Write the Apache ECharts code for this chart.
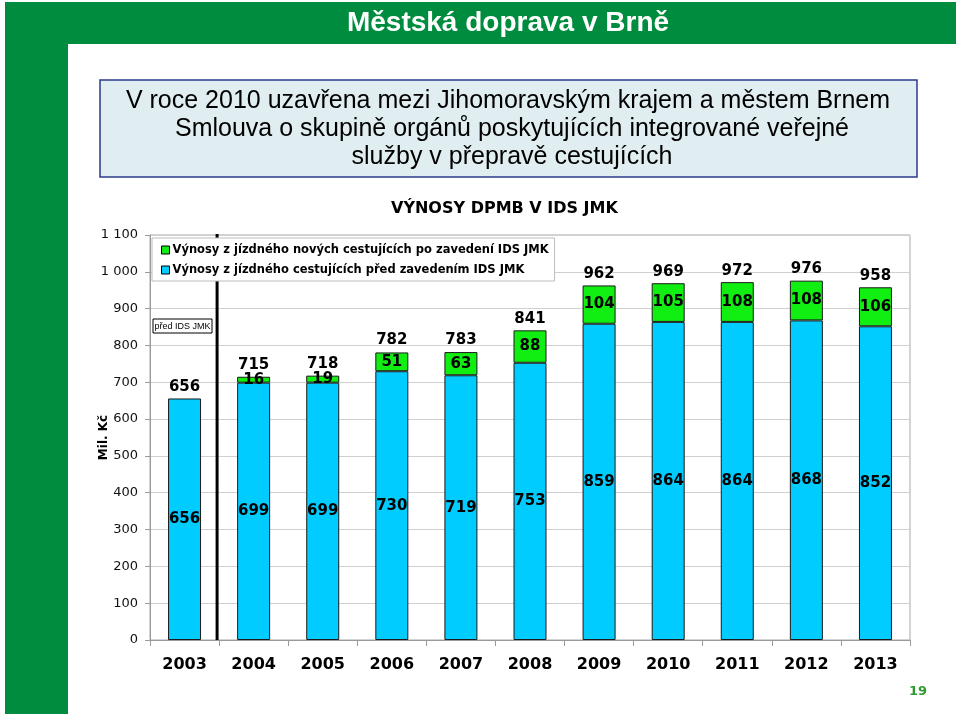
<!DOCTYPE html>
<html>
<head>
<meta charset="utf-8">
<script src="https://cdn.jsdelivr.net/npm/echarts@6/dist/echarts.min.js"></script>
<style>
html,body{margin:0;padding:0;background:#fff;}
#c{width:960px;height:716px;}
</style>
</head>
<body>
<div id="c"></div>
<script>
// ---- data ----
const years = ['2003','2004','2005','2006','2007','2008','2009','2010','2011','2012','2013'];
const beforeIDS = [656, 699, 699, 730, 719, 753, 859, 864, 864, 868, 852];
const newPassengers = [null, 16, 19, 51, 63, 88, 104, 105, 108, 108, 106];
const totals = [656, 715, 718, 782, 783, 841, 962, 969, 972, 976, 958];
const seriesNames = ['Výnosy z jízdného nových cestujících po zavedení IDS JMK', 'Výnosy z jízdného cestujících před zavedením IDS JMK'];
const slideTitle = 'Městská doprava v Brně';
const boxLines = ['V roce 2010 uzavřena mezi Jihomoravským krajem a městem Brnem', 'Smlouva o skupině orgánů poskytujících integrované veřejné', 'služby v přepravě cestujících'];
const chartTitle = 'VÝNOSY DPMB V IDS JMK';
const axisName = 'Mil. Kč';
const noteText = 'před IDS JMK';
const pageNo = '19';

const FONT = 'DejaVu Sans';
const chart = echarts.init(document.getElementById('c'), null, {renderer: 'canvas'});

const boldLabel = {fontFamily: FONT, fontWeight: 'bold', fontSize: 15, color: '#000', opacity: 1};

const option = {
  animation: false,
  backgroundColor: '#fff',
  title: {
    text: chartTitle, left: 386, top: 196,
    textStyle: {fontFamily: FONT, fontWeight: 'bold', fontSize: 16, color: '#000'}
  },
  legend: {
    data: seriesNames,
    orient: 'vertical', left: 152, top: 238,
    itemWidth: 8, itemHeight: 8, itemGap: 8,
    icon: 'rect',
    backgroundColor: '#fff', borderColor: '#bdbdbd', borderWidth: 1,
    padding: [6, 6, 5, 9],
    z: 10,
    textStyle: {fontFamily: FONT, fontWeight: 'bold', fontSize: 11.5, color: '#000', padding: [0,0,0,-2]},
    itemStyle: {borderColor: '#000', borderWidth: 1}
  },
  grid: {left: 150, right: 50, top: 235, bottom: 76, show: true, borderColor: '#a8a8a8', borderWidth: 1},
  xAxis: {
    type: 'category', data: years,
    axisLine: {lineStyle: {color: '#9a9a9a'}},
    axisTick: {show: true, length: 6, lineStyle: {color: '#9a9a9a'}},
    axisLabel: {fontFamily: FONT, fontWeight: 'bold', fontSize: 16, color: '#000', margin: 17}
  },
  yAxis: {
    type: 'value', min: 0, max: 1100, interval: 100,
    name: axisName, nameLocation: 'middle', nameGap: 40, nameMoveOverlap: false,
    nameTextStyle: {fontFamily: FONT, fontWeight: 'bold', fontSize: 12, color: '#000'},
    axisLine: {show: true, lineStyle: {color: '#9a9a9a'}},
    axisTick: {show: true, length: 5, lineStyle: {color: '#9a9a9a'}},
    splitLine: {lineStyle: {color: '#d0d0d0'}},
    axisLabel: {
      fontFamily: FONT, fontSize: 13, color: '#111', margin: 12,
      formatter: v => String(v).replace(/\B(?=(\d{3})+(?!\d))/g, ' ')
    }
  },
  series: [
    {
      name: seriesNames[1], type: 'bar', stack: 'tot', barWidth: 33,
      data: beforeIDS,
      itemStyle: {color: '#00ccff', borderColor: '#1a1a1a', borderWidth: 1},
      label: Object.assign({show: true, position: 'inside'}, boldLabel)
    },
    {
      name: seriesNames[0], type: 'bar', stack: 'tot', barWidth: 33,
      data: newPassengers,
      itemStyle: {color: '#11ee11', borderColor: '#1a1a1a', borderWidth: 1},
      label: Object.assign({show: true, position: 'inside'}, boldLabel)
    },
    {
      name: 'total', type: 'bar', barWidth: 33, barGap: '-100%', z: 1,
      data: totals, silent: true,
      itemStyle: {color: 'rgba(255,255,255,0)', borderWidth: 0},
      label: Object.assign({show: true, position: 'top', distance: 4}, boldLabel)
    }
  ]
};
chart.setOption(option);

// separator line between 2003 and 2004 positioned from the axis scale
const p0 = chart.convertToPixel({gridIndex: 0}, [0, 0]);
const p1 = chart.convertToPixel({gridIndex: 0}, [1, 1100]);
const sepX = (p0[0] + p1[0]) / 2 - 2;

chart.setOption({
  graphic: [
    {type: 'rect', shape: {x: 5, y: 2, width: 951, height: 42}, style: {fill: '#008c3e'}, z: 0},
    {type: 'rect', shape: {x: 5, y: 2, width: 63, height: 712}, style: {fill: '#008c3e'}, z: 0},
    {type: 'text', x: 508, y: 23, style: {text: slideTitle, fill: '#fff', font: 'bold 28px "Liberation Sans", Arial', textAlign: 'center', textVerticalAlign: 'middle'}, z: 1},
    {type: 'rect', shape: {x: 100, y: 80, width: 817, height: 97}, style: {fill: '#e1eef1', stroke: '#2b3a8c', lineWidth: 1.5}, z: 0},
    {type: 'text', x: 508, y: 101, style: {text: boxLines[0], fill: '#000', font: '25px "Liberation Sans", Arial', textAlign: 'center', textVerticalAlign: 'middle'}, z: 1},
    {type: 'text', x: 512, y: 129, style: {text: boxLines[1], fill: '#000', font: '25px "Liberation Sans", Arial', textAlign: 'center', textVerticalAlign: 'middle'}, z: 1},
    {type: 'text', x: 512, y: 157, style: {text: boxLines[2], fill: '#000', font: '25px "Liberation Sans", Arial', textAlign: 'center', textVerticalAlign: 'middle'}, z: 1},
    {type: 'line', shape: {x1: sepX, y1: p1[1] - 1, x2: sepX, y2: p0[1]}, style: {stroke: '#000', lineWidth: 3}, z: 3},
    {type: 'rect', shape: {x: 153, y: 319, width: 59, height: 14}, style: {fill: '#fff', stroke: '#000', lineWidth: 1}, z: 3},
    {type: 'text', x: 182.5, y: 326.5, style: {text: noteText, fill: '#000', font: '9px "Liberation Sans", Arial', textAlign: 'center', textVerticalAlign: 'middle'}, z: 4},
    {type: 'text', x: 918, y: 692, style: {text: pageNo, fill: '#2f9a2f', font: 'bold 13px "DejaVu Sans"', textAlign: 'center', textVerticalAlign: 'middle'}, z: 1}
  ]
});
</script>
</body>
</html>
